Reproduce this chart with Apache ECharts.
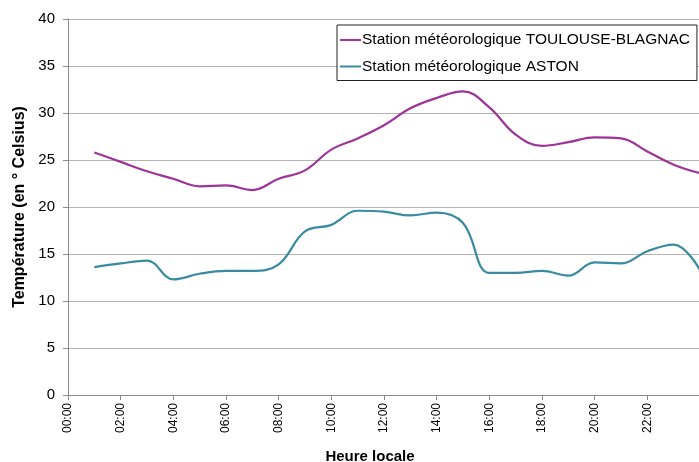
<!DOCTYPE html>
<html><head><meta charset="utf-8">
<script src="https://cdn.jsdelivr.net/npm/echarts@6/dist/echarts.min.js"></script>
<style>html,body{margin:0;padding:0;background:#fff}#c{width:699px;height:462px}</style>
</head><body><div id="c"></div>
<script>
const hours = [1,2,3,4,5,6,7,8,9,10,11,12,13,14,15,16,17,18,19,20,21,22,23,24];
const toulouse = [25.8,24.8,23.8,23.0,22.2,22.3,21.8,23.0,23.9,26.1,27.3,28.7,30.5,31.6,32.3,30.6,27.7,26.5,26.9,27.4,27.3,25.9,24.5,23.6];
const aston = [13.6,14.0,14.3,12.3,12.9,13.2,13.2,13.9,17.4,18.1,19.6,19.5,19.1,19.4,18.3,13.0,13.0,13.2,12.7,14.1,14.0,15.3,16.0,13.3];
const seriesNames = ['Station météorologique TOULOUSE-BLAGNAC','Station météorologique ASTON'];
const xName = 'Heure locale';
const yName = 'Température (en ° Celsius)';

const font = "'Liberation Sans', Arial, sans-serif";
const chart = echarts.init(document.getElementById('c'), null, {renderer:'canvas'});
const pair = (xs, ys) => xs.map((x,i)=>[x, ys[i]]);
chart.setOption({
  animation:false,
  textStyle:{fontFamily:font},
  grid:{left:68, right:-1, top:19, bottom:67, containLabel:false, outerBoundsMode:'none'},
  legend:{
    orient:'vertical', left:337, top:25,
    backgroundColor:'#fff', borderColor:'#222', borderWidth:1,
    padding:[7,7,6,3], itemGap:10.5,
    itemWidth:21, itemHeight:2, icon:'rect',
    textStyle:{fontFamily:font, fontSize:15.5, color:'#000', padding:[0,0,0,-4]},
    data:seriesNames
  },
  xAxis:{
    type:'value', min:0, max:24, interval:2,
    name:xName, nameLocation:'middle', nameGap:54,
    nameTextStyle:{fontFamily:font, fontWeight:'bold', fontSize:15, color:'#000', padding:[0,28,0,0]},
    axisLine:{lineStyle:{color:'#8c8c8c'}},
    axisTick:{show:true, length:5, lineStyle:{color:'#8c8c8c'}},
    splitLine:{show:false},
    axisLabel:{rotate:90, fontSize:12, color:'#000', margin:8, showMaxLabel:false,
      formatter:v=>String(v).padStart(2,'0')+':00'}
  },
  yAxis:{
    type:'value', min:0, max:40, interval:5,
    name:yName, nameLocation:'middle', nameGap:39, nameRotate:90,
    nameTextStyle:{fontFamily:font, fontWeight:'bold', fontSize:16, color:'#000'},
    axisLine:{show:true, lineStyle:{color:'#8c8c8c'}},
    axisTick:{show:true, length:5, lineStyle:{color:'#8c8c8c'}},
    splitLine:{lineStyle:{color:'#b4b4b4', width:1.2}},
    axisLabel:{fontSize:15, color:'#000', margin:13}
  },
  series:[
    {name:seriesNames[0], type:'line', smooth:0.4, symbol:'none', data:pair(hours,toulouse),
     lineStyle:{color:'#9E3497', width:2.2}, itemStyle:{color:'#9E3497'}},
    {name:seriesNames[1], type:'line', smooth:0.4, symbol:'none', data:pair(hours,aston),
     lineStyle:{color:'#3A8BA0', width:2.2}, itemStyle:{color:'#3A8BA0'}}
  ]
});
</script></body></html>
